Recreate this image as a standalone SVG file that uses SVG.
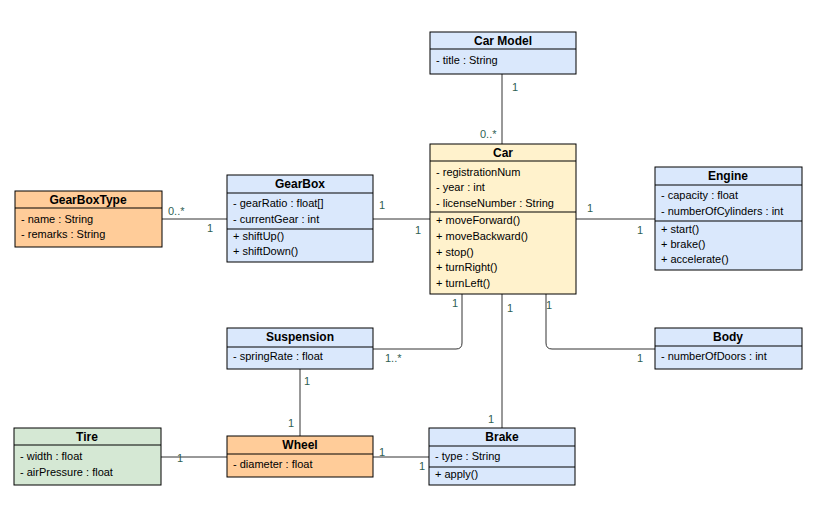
<svg xmlns="http://www.w3.org/2000/svg" width="819" height="525" viewBox="0 0 819 525">
<style>
.box{stroke:#000;stroke-width:1}
.blue{fill:#dae8fc}.yellow{fill:#fff2cc}.orange{fill:#ffcc99}.green{fill:#d5e8d4}
.sep{stroke:#000;stroke-width:1}
.h{font-family:"Liberation Sans",Arial,sans-serif;font-size:12px;font-weight:bold;fill:#000;text-anchor:middle}
.t{font-family:"Liberation Sans",Arial,sans-serif;font-size:11px;fill:#000}
.m{font-family:"Liberation Sans",Arial,sans-serif;font-size:11px;fill:#2f5f55}
.c{fill:none;stroke:#333;stroke-width:1}
</style>
<rect width="819" height="525" fill="#fff"/>
<g id="connectors">
<path class="c" d="M502 74V144"/>
<path class="c" d="M162 219H227"/>
<path class="c" d="M373 219H430"/>
<path class="c" d="M576 219H655"/>
<path class="c" d="M546 294V343Q546 349 552 349H655"/>
<path class="c" d="M462 294V343Q462 349 456 349H373"/>
<path class="c" d="M300 369V436"/>
<path class="c" d="M161 457H227"/>
<path class="c" d="M373 457H429"/>
<path class="c" d="M502 294V428"/>
<text class="m" x="512" y="91">1</text>
<text class="m" x="480" y="138">0..*</text>
<text class="m" x="168" y="215">0..*</text>
<text class="m" x="207" y="232">1</text>
<text class="m" x="379" y="209">1</text>
<text class="m" x="415" y="234">1</text>
<text class="m" x="587" y="212">1</text>
<text class="m" x="637" y="234">1</text>
<text class="m" x="546" y="309">1</text>
<text class="m" x="637" y="362">1</text>
<text class="m" x="452" y="307">1</text>
<text class="m" x="385" y="362">1..*</text>
<text class="m" x="507" y="312">1</text>
<text class="m" x="488" y="423">1</text>
<text class="m" x="304" y="385">1</text>
<text class="m" x="288" y="427">1</text>
<text class="m" x="177" y="462">1</text>
<text class="m" x="379" y="456">1</text>
<text class="m" x="419" y="470">1</text>
</g>
<g id="car-model">
<rect class="box blue" x="430" y="32" width="146" height="42"/>
<line class="sep" x1="430" y1="49" x2="576" y2="49"/>
<text class="h" x="503" y="45">Car Model</text>
<text class="t" x="436" y="64">- title : String</text>
</g>
<g id="car">
<rect class="box yellow" x="430" y="144" width="146" height="150"/>
<line class="sep" x1="430" y1="161" x2="576" y2="161"/>
<line class="sep" x1="430" y1="212" x2="576" y2="212"/>
<text class="h" x="503" y="157">Car</text>
<text class="t" x="436" y="176">- registrationNum</text>
<text class="t" x="436" y="191">- year : int</text>
<text class="t" x="436" y="207">- licenseNumber : String</text>
<text class="t" x="436" y="224">+ moveForward()</text>
<text class="t" x="436" y="240">+ moveBackward()</text>
<text class="t" x="436" y="256">+ stop()</text>
<text class="t" x="436" y="271">+ turnRight()</text>
<text class="t" x="436" y="287">+ turnLeft()</text>
</g>
<g id="gearboxtype">
<rect class="box orange" x="15" y="191" width="147" height="56"/>
<line class="sep" x1="15" y1="208" x2="162" y2="208"/>
<text class="h" x="88" y="204">GearBoxType</text>
<text class="t" x="21" y="223">- name : String</text>
<text class="t" x="21" y="238">- remarks : String</text>
</g>
<g id="gearbox">
<rect class="box blue" x="227" y="175" width="146" height="87"/>
<line class="sep" x1="227" y1="193" x2="373" y2="193"/>
<line class="sep" x1="227" y1="229" x2="373" y2="229"/>
<text class="h" x="300" y="188">GearBox</text>
<text class="t" x="233" y="207">- gearRatio : float[]</text>
<text class="t" x="233" y="223">- currentGear : int</text>
<text class="t" x="233" y="240">+ shiftUp()</text>
<text class="t" x="233" y="255">+ shiftDown()</text>
</g>
<g id="engine">
<rect class="box blue" x="655" y="167" width="147" height="103"/>
<line class="sep" x1="655" y1="185" x2="802" y2="185"/>
<line class="sep" x1="655" y1="221" x2="802" y2="221"/>
<text class="h" x="728" y="180">Engine</text>
<text class="t" x="661" y="199">- capacity : float</text>
<text class="t" x="661" y="215">- numberOfCylinders : int</text>
<text class="t" x="661" y="233">+ start()</text>
<text class="t" x="661" y="248">+ brake()</text>
<text class="t" x="661" y="263">+ accelerate()</text>
</g>
<g id="body">
<rect class="box blue" x="655" y="328" width="147" height="41"/>
<line class="sep" x1="655" y1="346" x2="802" y2="346"/>
<text class="h" x="728" y="341">Body</text>
<text class="t" x="661" y="360">- numberOfDoors : int</text>
</g>
<g id="suspension">
<rect class="box blue" x="227" y="328" width="146" height="41"/>
<line class="sep" x1="227" y1="347" x2="373" y2="347"/>
<text class="h" x="300" y="341">Suspension</text>
<text class="t" x="233" y="360">- springRate : float</text>
</g>
<g id="tire">
<rect class="box green" x="14" y="428" width="147" height="57"/>
<line class="sep" x1="14" y1="445" x2="161" y2="445"/>
<text class="h" x="87" y="441">Tire</text>
<text class="t" x="20" y="460">- width : float</text>
<text class="t" x="20" y="476">- airPressure : float</text>
</g>
<g id="wheel">
<rect class="box orange" x="227" y="436" width="146" height="41"/>
<line class="sep" x1="227" y1="454" x2="373" y2="454"/>
<text class="h" x="300" y="449">Wheel</text>
<text class="t" x="233" y="468">- diameter : float</text>
</g>
<g id="brake">
<rect class="box blue" x="429" y="428" width="146" height="57"/>
<line class="sep" x1="429" y1="446" x2="575" y2="446"/>
<line class="sep" x1="429" y1="467" x2="575" y2="467"/>
<text class="h" x="502" y="441">Brake</text>
<text class="t" x="435" y="460">- type : String</text>
<text class="t" x="435" y="478">+ apply()</text>
</g>
</svg>
